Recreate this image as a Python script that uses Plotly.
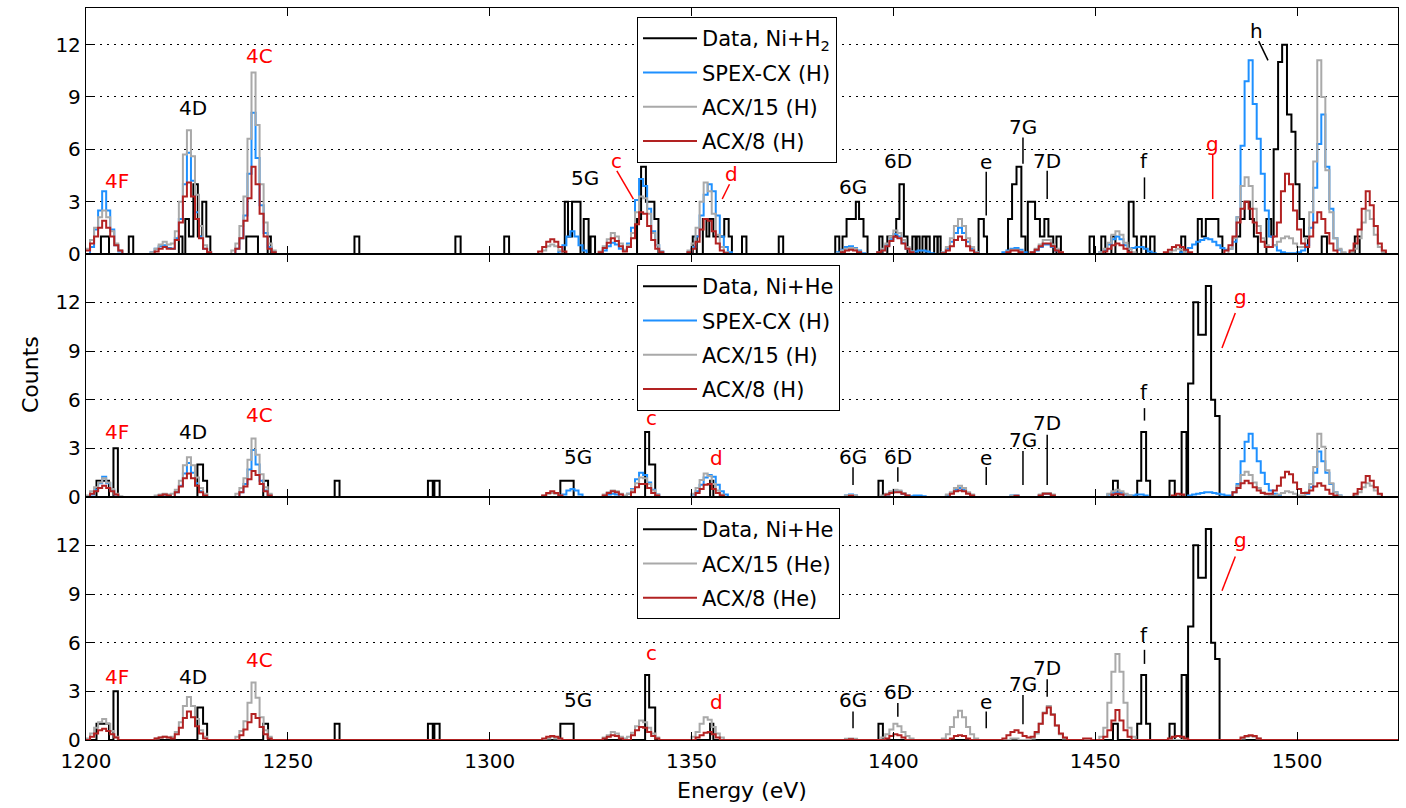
import numpy as np
import plotly.graph_objects as go
from plotly.subplots import make_subplots

E_MIN, E_MAX = 1200, 1525

# ---- measured counts: (bin_lo, bin_hi, counts) ----
DATA_NI_H2 = [
    (1203.7, 1205.7, 1), (1210.6, 1211.7, 1),
    (1223.0, 1223.9, 1), (1224.6, 1225.5, 2), (1225.5, 1226.6, 1), (1226.6, 1227.7, 4),
    (1227.7, 1228.8, 1), (1228.8, 1229.8, 3), (1229.8, 1230.8, 1),
    (1239.7, 1242.6, 1), (1245.0, 1245.8, 1), (1266.5, 1267.7, 1),
    (1291.5, 1292.8, 1), (1303.6, 1304.8, 1),
    (1318.6, 1319.4, 3), (1319.4, 1320.4, 1), (1320.4, 1322.5, 3),
    (1323.3, 1324.5, 2), (1325.0, 1326.1, 1),
    (1336.5, 1337.5, 2), (1337.5, 1338.7, 5), (1338.7, 1340.8, 3), (1340.8, 1341.8, 2),
    (1350.3, 1351.3, 1), (1352.8, 1353.7, 2), (1353.7, 1354.4, 1), (1354.4, 1355.4, 2),
    (1355.4, 1358.1, 1), (1358.1, 1359.2, 2), (1359.2, 1360.0, 1),
    (1362.5, 1363.6, 1), (1371.6, 1372.7, 1),
    (1385.6, 1386.6, 1), (1387.4, 1388.4, 1), (1388.4, 1390.7, 2), (1390.7, 1391.5, 3),
    (1391.5, 1392.6, 2), (1392.6, 1393.6, 1),
    (1396.5, 1397.3, 1), (1398.5, 1400.7, 1), (1400.7, 1401.5, 2), (1401.5, 1402.6, 4),
    (1402.6, 1403.5, 1),
    (1404.7, 1405.5, 1), (1405.8, 1406.5, 1), (1407.2, 1408.0, 1), (1408.2, 1409.0, 1),
    (1410.1, 1410.9, 1), (1411.0, 1411.7, 1),
    (1421.1, 1422.4, 2), (1422.4, 1423.2, 1),
    (1428.4, 1429.4, 2), (1429.4, 1430.5, 4), (1430.5, 1431.7, 5), (1431.7, 1432.7, 1),
    (1433.3, 1435.1, 3), (1435.1, 1436.3, 2), (1436.3, 1437.4, 1), (1437.4, 1438.4, 2),
    (1438.4, 1439.6, 1), (1440.4, 1441.5, 1),
    (1448.6, 1449.7, 1), (1451.5, 1452.5, 1), (1454.0, 1455.0, 1),
    (1458.3, 1459.5, 3), (1459.5, 1460.3, 1), (1461.4, 1462.6, 1), (1463.6, 1464.7, 1),
    (1471.3, 1472.3, 1), (1475.4, 1476.4, 2), (1476.4, 1477.4, 1), (1477.4, 1480.5, 2),
    (1480.5, 1481.5, 1),
    (1484.9, 1485.9, 1), (1485.9, 1487.0, 2), (1487.0, 1488.3, 3), (1488.3, 1489.3, 2),
    (1489.3, 1490.3, 1),
    (1492.4, 1493.6, 2), (1493.6, 1494.2, 1), (1494.2, 1495.3, 6), (1495.3, 1496.3, 11),
    (1496.3, 1497.5, 12), (1497.5, 1498.6, 8), (1498.6, 1499.6, 7), (1499.6, 1500.6, 4),
    (1500.6, 1501.7, 2), (1501.7, 1502.7, 1),
    (1506.1, 1507.4, 1), (1514.3, 1515.5, 1),
]

DATA_NI_HE = [
    (1202.6, 1205.7, 1), (1206.8, 1207.9, 3),
    (1227.6, 1229.0, 2), (1229.0, 1230.0, 1),
    (1243.9, 1245.1, 1), (1261.6, 1262.8, 1),
    (1284.7, 1285.9, 1), (1286.3, 1287.6, 1),
    (1317.5, 1320.8, 1),
    (1338.5, 1339.5, 4), (1339.5, 1341.0, 2),
    (1354.6, 1355.4, 1), (1396.3, 1397.4, 1),
    (1454.4, 1455.6, 1), (1460.4, 1461.4, 1), (1461.4, 1462.6, 4), (1462.6, 1463.6, 1),
    (1468.4, 1469.7, 1), (1471.4, 1472.6, 4),
    (1473.0, 1474.3, 7), (1474.3, 1475.5, 12), (1475.5, 1477.4, 10), (1477.4, 1478.7, 13),
    (1478.7, 1479.7, 6), (1479.7, 1480.8, 5),
]

# ---- model spectra on 1 eV bins: (first bin, [values...]) ----
SPEX_H_P1 = [
    (1201, [0.4, 1.4, 2.5, 3.6, 2.5, 1.4, 0.5, 0.15]),
    (1216, [0.1, 0.3, 0.45, 0.5, 0.35]),
    (1221, [0.3, 0.9, 2.0, 4.0, 5.8, 4.2, 2.4, 1.0, 0.3, 0.1]),
    (1237, [0.3, 0.9, 2.2, 4.6, 8.1, 5.5, 2.8, 1.2, 0.4, 0.1]),
    (1317, [0.15, 0.5, 1.0, 1.3, 1.0, 0.5, 0.2]),
    (1328, [0.2, 0.45, 0.65, 0.55, 0.3]),
    (1333, [0.2, 0.6, 1.5, 3.1, 4.3, 3.9, 2.6, 1.3, 0.5, 0.15]),
    (1349, [0.1, 0.4, 1.0, 2.2, 3.4, 4.0, 3.6, 2.2, 1.0, 0.4, 0.1]),
    (1386, [0.1, 0.25, 0.4, 0.45, 0.35, 0.2, 0.05]),
    (1396, [0.1, 0.25, 0.5, 0.85, 1.15, 1.0, 0.65, 0.3, 0.15, 0.15, 0.2, 0.2, 0.15, 0.05]),
    (1412, [0.1, 0.3, 0.7, 1.2, 1.5, 1.2, 0.7, 0.3, 0.1]),
    (1427, [0.1, 0.2, 0.3, 0.35, 0.25, 0.1]),
    (1435, [0.2, 0.4, 0.55, 0.55, 0.4, 0.2, 0.05]),
    (1451, [0.1, 0.25, 0.55, 0.85, 1.0, 0.85, 0.5, 0.3, 0.35, 0.4, 0.4, 0.3, 0.15, 0.05]),
    (1471, [0.1, 0.2, 0.35, 0.55, 0.7, 0.8, 0.9, 0.85, 0.7, 0.5, 0.35, 0.25, 0.3, 0.7,
            2.1, 6.2, 9.9, 11.1, 8.6, 6.6, 4.6, 2.5, 1.0, 0.5, 0.2, 0.1, 0.05, 0.05, 0.05,
            0.1, 0.2, 0.5, 1.5, 3.8, 6.3, 8.0, 5.0, 2.6, 0.9, 0.25, 0.05]),
]
ACX15_H_P1 = [
    (1200, [0.3, 0.8, 1.5, 2.1, 2.5, 2.1, 1.3, 0.6, 0.2]),
    (1216, [0.1, 0.3, 0.55, 0.7, 0.55]),
    (1221, [0.6, 1.3, 3.0, 5.7, 7.1, 5.6, 3.4, 1.6, 0.5, 0.1]),
    (1236, [0.2, 0.6, 1.6, 3.3, 6.6, 10.4, 7.4, 4.0, 1.8, 0.6, 0.2]),
    (1313, [0.2, 0.45, 0.55, 0.45, 0.2]),
    (1327, [0.15, 0.45, 0.85, 1.2, 1.0, 0.6, 0.25]),
    (1334, [0.5, 1.2, 2.4, 3.3, 3.2, 2.3, 1.2, 0.5, 0.15]),
    (1349, [0.2, 0.6, 1.5, 3.0, 4.1, 3.6, 2.3, 1.1, 0.4, 0.1]),
    (1386, [0.05, 0.2, 0.3, 0.35, 0.3, 0.15]),
    (1396, [0.1, 0.3, 0.6, 1.0, 1.35, 1.2, 0.8, 0.4, 0.15]),
    (1412, [0.1, 0.4, 0.9, 1.6, 2.0, 1.6, 0.9, 0.4, 0.1]),
    (1428, [0.15, 0.25, 0.25, 0.15]),
    (1434, [0.1, 0.3, 0.55, 0.8, 0.8, 0.55, 0.3, 0.1]),
    (1451, [0.1, 0.3, 0.65, 1.1, 1.3, 1.1, 0.65, 0.3, 0.1]),
    (1468, [0.1, 0.2, 0.3, 0.25, 0.1]),
    (1483, [0.3, 0.9, 2.1, 3.9, 4.4, 3.9, 2.6, 1.6, 0.9, 0.5, 0.4, 0.5, 0.7, 0.9, 1.0,
            0.9, 0.6, 0.4, 0.4, 0.9, 2.4, 5.3, 11.1, 9.0, 4.8, 2.4, 0.9, 0.3, 0.1]),
    (1513, [0.1, 0.3, 0.9, 1.8, 2.5, 2.0, 1.1, 0.4, 0.1]),
]
ACX8_H_P1 = [
    (1200, [0.2, 0.6, 1.0, 1.5, 1.9, 1.5, 1.0, 0.5, 0.2]),
    (1217, [0.15, 0.3, 0.4, 0.3]),
    (1221, [0.3, 0.8, 1.8, 3.3, 4.1, 3.3, 2.0, 0.9, 0.3, 0.1]),
    (1237, [0.3, 0.9, 1.9, 3.2, 5.0, 4.0, 2.3, 1.0, 0.3, 0.1]),
    (1312, [0.15, 0.4, 0.7, 0.85, 0.7, 0.4, 0.15]),
    (1327, [0.1, 0.35, 0.65, 0.9, 0.75, 0.45, 0.15]),
    (1334, [0.4, 0.9, 1.7, 2.4, 2.3, 1.6, 0.8, 0.3, 0.1]),
    (1349, [0.1, 0.3, 0.7, 1.4, 2.0, 1.9, 1.3, 0.6, 0.2, 0.05]),
    (1387, [0.1, 0.2, 0.25, 0.2, 0.1]),
    (1396, [0.1, 0.2, 0.45, 0.75, 1.0, 0.9, 0.6, 0.3, 0.1]),
    (1412, [0.05, 0.2, 0.45, 0.8, 1.0, 0.8, 0.45, 0.2, 0.05]),
    (1428, [0.1, 0.2, 0.2, 0.1]),
    (1434, [0.1, 0.25, 0.45, 0.6, 0.6, 0.45, 0.2, 0.1]),
    (1452, [0.15, 0.3, 0.5, 0.6, 0.5, 0.3, 0.1]),
    (1467, [0.1, 0.25, 0.4, 0.5, 0.4, 0.25, 0.1]),
    (1482, [0.2, 0.5, 1.0, 1.8, 2.6, 3.0, 2.6, 1.8, 1.2, 0.7, 0.4, 0.4, 1.0, 1.8, 3.6,
            4.6, 4.0, 2.5, 1.4, 0.6, 0.4, 1.0, 1.8, 2.4, 2.0, 1.2, 0.6, 0.2]),
    (1513, [0.2, 0.6, 1.4, 2.6, 3.6, 2.8, 1.6, 0.6, 0.2]),
]

SPEX_H_P2 = [
    (1201, [0.15, 0.45, 0.85, 1.25, 0.85, 0.45, 0.15]),
    (1218, [0.1, 0.15, 0.1]),
    (1222, [0.3, 0.7, 1.45, 2.1, 1.5, 0.85, 0.35, 0.1]),
    (1238, [0.3, 0.8, 1.7, 2.9, 2.0, 1.0, 0.4, 0.1]),
    (1318, [0.15, 0.4, 0.5, 0.4, 0.15]),
    (1329, [0.15, 0.2, 0.15]),
    (1334, [0.2, 0.5, 1.1, 1.5, 1.35, 0.9, 0.45, 0.15]),
    (1350, [0.15, 0.35, 0.75, 1.2, 1.35, 1.25, 0.75, 0.35, 0.15]),
    (1388, [0.1, 0.15, 0.1]),
    (1398, [0.15, 0.3, 0.4, 0.35, 0.2, 0.1, 0.05, 0.1, 0.1, 0.05]),
    (1413, [0.1, 0.25, 0.45, 0.55, 0.45, 0.25, 0.1]),
    (1429, [0.1, 0.1]),
    (1436, [0.1, 0.2, 0.2, 0.1]),
    (1453, [0.15, 0.25, 0.3, 0.25, 0.15, 0.1, 0.1, 0.15, 0.15, 0.1]),
    (1473, [0.1, 0.15, 0.2, 0.25, 0.3, 0.3, 0.25, 0.2, 0.15, 0.1, 0.1, 0.3, 0.8, 2.2,
            3.4, 3.9, 3.0, 2.2, 1.5, 0.8, 0.4, 0.2, 0.1]),
    (1502, [0.2, 0.6, 1.5, 2.8, 2.2, 1.5, 0.8, 0.3, 0.1]),
]
ACX15_H_P2 = [
    (1200, [0.1, 0.35, 0.6, 0.9, 1.15, 0.9, 0.5, 0.2, 0.05]),
    (1217, [0.1, 0.15, 0.2, 0.15]),
    (1221, [0.2, 0.45, 1.0, 1.95, 2.45, 1.95, 1.2, 0.55, 0.2]),
    (1237, [0.2, 0.55, 1.15, 2.3, 3.6, 2.6, 1.4, 0.6, 0.2]),
    (1313, [0.1, 0.2, 0.25, 0.2, 0.1]),
    (1328, [0.15, 0.3, 0.4, 0.35, 0.2, 0.1]),
    (1334, [0.2, 0.45, 0.85, 1.2, 1.15, 0.8, 0.4, 0.15]),
    (1350, [0.2, 0.55, 1.05, 1.45, 1.3, 0.8, 0.4, 0.15]),
    (1388, [0.1, 0.12, 0.1]),
    (1397, [0.1, 0.2, 0.35, 0.45, 0.4, 0.25, 0.1]),
    (1413, [0.15, 0.3, 0.55, 0.7, 0.55, 0.3, 0.15]),
    (1429, [0.08, 0.08]),
    (1436, [0.15, 0.25, 0.25, 0.15]),
    (1453, [0.2, 0.35, 0.45, 0.35, 0.2, 0.1]),
    (1470, [0.1]),
    (1484, [0.3, 0.7, 1.35, 1.55, 1.35, 0.9, 0.55, 0.3, 0.15, 0.1, 0.1, 0.15, 0.25,
            0.35, 0.3, 0.2, 0.1, 0.1, 0.3, 0.8, 1.85, 3.9, 3.1, 1.65, 0.85, 0.3, 0.1]),
    (1514, [0.1, 0.3, 0.6, 0.85, 0.7, 0.4, 0.15]),
]
ACX8_H_P2 = [
    (1201, [0.2, 0.35, 0.55, 0.7, 0.55, 0.35, 0.15]),
    (1218, [0.1, 0.15, 0.1]),
    (1222, [0.3, 0.65, 1.15, 1.45, 1.15, 0.7, 0.3, 0.1]),
    (1238, [0.3, 0.65, 1.1, 1.6, 1.35, 0.8, 0.35, 0.1]),
    (1313, [0.1, 0.25, 0.35, 0.25, 0.1]),
    (1328, [0.1, 0.25, 0.35, 0.3, 0.15]),
    (1335, [0.3, 0.6, 0.8, 0.8, 0.55, 0.25, 0.1]),
    (1351, [0.25, 0.5, 0.75, 0.8, 0.5, 0.25, 0.1]),
    (1389, [0.08]),
    (1398, [0.15, 0.25, 0.3, 0.3, 0.2, 0.1]),
    (1414, [0.2, 0.35, 0.4, 0.35, 0.2, 0.1]),
    (1430, [0.07]),
    (1436, [0.1, 0.2, 0.2, 0.1]),
    (1454, [0.15, 0.2, 0.15]),
    (1469, [0.1, 0.2, 0.15]),
    (1484, [0.3, 0.55, 0.85, 1.0, 0.85, 0.6, 0.4, 0.25, 0.2, 0.2, 0.4, 0.7, 1.2, 1.55,
            1.4, 0.9, 0.5, 0.25, 0.25, 0.4, 0.65, 0.85, 0.7, 0.45, 0.2, 0.1]),
    (1514, [0.2, 0.5, 0.9, 1.3, 1.0, 0.6, 0.2]),
]

ACX15_HE_P3 = [
    (1200, [0.1, 0.4, 0.75, 1.1, 1.3, 1.0, 0.55, 0.2]),
    (1217, [0.1, 0.15, 0.2, 0.15]),
    (1221, [0.2, 0.5, 1.1, 2.1, 2.65, 2.1, 1.3, 0.6, 0.2]),
    (1237, [0.2, 0.55, 1.15, 2.3, 3.55, 2.6, 1.4, 0.6, 0.2]),
    (1314, [0.1, 0.2, 0.1]),
    (1328, [0.15, 0.3, 0.5, 0.4, 0.2, 0.1]),
    (1334, [0.2, 0.45, 0.85, 1.2, 1.1, 0.75, 0.4, 0.15]),
    (1350, [0.2, 0.5, 1.0, 1.4, 1.25, 0.8, 0.4, 0.15]),
    (1388, [0.08, 0.1, 0.08]),
    (1397, [0.15, 0.35, 0.65, 1.0, 0.85, 0.5, 0.25, 0.1]),
    (1412, [0.1, 0.35, 0.8, 1.4, 1.8, 1.4, 0.8, 0.35, 0.1]),
    (1429, [0.1, 0.1]),
    (1434, [0.1, 0.4, 1.0, 1.7, 2.1, 1.6, 0.9, 0.35, 0.1]),
    (1451, [0.2, 0.75, 2.3, 4.2, 5.3, 4.2, 2.3, 0.75, 0.2]),
    (1486, [0.1, 0.2, 0.25, 0.2, 0.1]),
]
ACX8_HE_P3 = [
    (1201, [0.2, 0.4, 0.6, 0.7, 0.55, 0.35, 0.15]),
    (1217, [0.1, 0.15, 0.2, 0.15, 0.1]),
    (1222, [0.35, 0.75, 1.35, 1.75, 1.4, 0.85, 0.4, 0.1]),
    (1238, [0.3, 0.65, 1.1, 1.6, 1.35, 0.8, 0.35, 0.1]),
    (1313, [0.1, 0.2, 0.25, 0.2, 0.1]),
    (1328, [0.1, 0.2, 0.3, 0.25, 0.1]),
    (1335, [0.3, 0.6, 0.8, 0.75, 0.5, 0.25, 0.1]),
    (1351, [0.15, 0.3, 0.45, 0.5, 0.35, 0.15]),
    (1389, [0.05]),
    (1398, [0.1, 0.25, 0.35, 0.3, 0.15]),
    (1414, [0.1, 0.25, 0.3, 0.25, 0.1]),
    (1427, [0.1, 0.3, 0.5, 0.6, 0.45, 0.25, 0.15, 0.2, 0.5, 1.0, 1.65, 2.0, 1.55, 0.9,
            0.4, 0.15]),
    (1447, [0.1, 0.1]),
    (1452, [0.2, 0.6, 1.2, 1.85, 1.2, 0.6, 0.2]),
    (1468, [0.1, 0.2, 0.25, 0.2, 0.1]),
    (1486, [0.15, 0.25, 0.3, 0.25, 0.1]),
]

# ---- line identifications: (text, energy, counts, colour) ----
LABELS_P1 = [("4F", 1207.7, 4.2, "red"), ("4D", 1226.5, 8.37, "black"),
             ("4C", 1243.1, 11.34, "red"), ("5G", 1323.5, 4.37, "black"),
             ("c", 1331.3, 5.34, "red"), ("d", 1359.8, 4.6, "red"),
             ("6G", 1390.0, 3.86, "black"), ("6D", 1401.1, 5.34, "black"),
             ("e", 1423.0, 5.29, "black"), ("7G", 1432.1, 7.29, "black"),
             ("7D", 1438.1, 5.34, "black"), ("f", 1462.2, 5.34, "black"),
             ("g", 1479.1, 6.3, "red"), ("h", 1490.0, 12.77, "black")]
TICKS_P1 = [(1331.5, 4.77, 1335.6, 3.15, "red"), (1359.4, 4.0, 1357.6, 3.15, "red"),
            (1423.0, 4.71, 1423.0, 2.2, "black"), (1432.1, 6.68, 1432.1, 5.17, "black"),
            (1438.1, 4.77, 1438.1, 3.15, "black"), (1462.2, 4.39, 1462.2, 3.15, "black"),
            (1479.1, 5.73, 1479.1, 3.15, "red"), (1490.5, 12.2, 1492.8, 11.1, "black")]

LABELS_P2 = [("4F", 1207.7, 3.99, "red"), ("4D", 1226.5, 3.99, "black"),
             ("4C", 1243.1, 5.06, "red"), ("5G", 1321.8, 2.47, "black"),
             ("c", 1340.1, 4.86, "red"), ("d", 1356.1, 2.39, "red"),
             ("6G", 1390.0, 2.47, "black"), ("6D", 1401.1, 2.47, "black"),
             ("e", 1423.0, 2.39, "black"), ("7G", 1432.1, 3.52, "black"),
             ("7D", 1438.1, 4.57, "black"), ("f", 1462.2, 6.5, "black"),
             ("g", 1485.9, 12.36, "red")]
TICKS_P2 = [(1390.0, 1.83, 1390.0, 0.74, "black"), (1401.1, 1.83, 1401.1, 0.94, "black"),
            (1423.0, 1.85, 1423.0, 0.74, "black"), (1432.1, 2.84, 1432.1, 0.74, "black"),
            (1438.1, 3.83, 1438.1, 0.74, "black"), (1462.2, 5.48, 1462.2, 4.71, "black"),
            (1484.7, 11.34, 1481.4, 9.18, "red")]

LABELS_P3 = [("4F", 1207.7, 3.89, "red"), ("4D", 1226.5, 3.89, "black"),
             ("4C", 1243.1, 4.94, "red"), ("5G", 1321.8, 2.47, "black"),
             ("c", 1340.1, 5.35, "red"), ("d", 1356.1, 2.36, "red"),
             ("6G", 1390.0, 2.47, "black"), ("6D", 1401.1, 2.98, "black"),
             ("e", 1423.0, 2.36, "black"), ("7G", 1432.1, 3.46, "black"),
             ("7D", 1438.1, 4.43, "black"), ("f", 1462.2, 6.48, "black"),
             ("g", 1485.9, 12.35, "red")]
TICKS_P3 = [(1390.0, 1.75, 1390.0, 0.72, "black"), (1401.1, 2.28, 1401.1, 1.44, "black"),
            (1423.0, 1.75, 1423.0, 0.72, "black"), (1432.1, 2.78, 1432.1, 0.97, "black"),
            (1438.1, 3.75, 1438.1, 2.67, "black"), (1462.2, 5.56, 1462.2, 4.69, "black"),
            (1484.7, 11.31, 1481.4, 9.2, "red")]

C_DATA, C_SPEX, C_ACX15, C_ACX8 = "black", "#1E90FF", "#A9A9A9", "#B22222"
FONT = "DejaVu Sans"


def model_steps(segments):
    vals = np.zeros(E_MAX - E_MIN)
    for start, v in segments:
        i = start - E_MIN
        vals[i:i + len(v)] = v
    x = np.arange(E_MIN, E_MAX + 1)
    y = np.append(vals, vals[-1])
    return x, y


def data_steps(bars):
    xs, ys = [E_MIN], [0]
    prev_hi = None
    for lo, hi, c in bars:
        if prev_hi is not None and abs(lo - prev_hi) > 1e-9:
            xs.append(prev_hi)
            ys.append(0)
        xs.append(lo)
        ys.append(c)
        prev_hi = hi
    xs += [prev_hi, E_MAX]
    ys += [0, 0]
    return xs, ys


fig = make_subplots(rows=3, cols=1, shared_xaxes=True, vertical_spacing=0)

panels = [
    (1, "legend", [("Data, Ni+H<sub>2</sub>", "data", DATA_NI_H2, C_DATA),
                   ("SPEX-CX (H)", "model", SPEX_H_P1, C_SPEX),
                   ("ACX/15 (H)", "model", ACX15_H_P1, C_ACX15),
                   ("ACX/8 (H)", "model", ACX8_H_P1, C_ACX8)]),
    (2, "legend2", [("Data, Ni+He", "data", DATA_NI_HE, C_DATA),
                    ("SPEX-CX (H)", "model", SPEX_H_P2, C_SPEX),
                    ("ACX/15 (H)", "model", ACX15_H_P2, C_ACX15),
                    ("ACX/8 (H)", "model", ACX8_H_P2, C_ACX8)]),
    (3, "legend3", [("Data, Ni+He", "data", DATA_NI_HE, C_DATA),
                    ("ACX/15 (He)", "model", ACX15_HE_P3, C_ACX15),
                    ("ACX/8 (He)", "model", ACX8_HE_P3, C_ACX8)]),
]

for row, leg, series in panels:
    for k, (name, kind, values, color) in enumerate(series):
        x, y = data_steps(values) if kind == "data" else model_steps(values)
        fig.add_trace(go.Scatter(
            x=x, y=y, mode="lines", line=dict(shape="hv", color=color, width=2),
            name=name, legend=leg, legendgroup=f"{leg}_{k}", hoverinfo="skip",
        ), row=row, col=1)

# line identification labels and marker ticks
for row, labels, ticks in [(1, LABELS_P1, TICKS_P1), (2, LABELS_P2, TICKS_P2),
                           (3, LABELS_P3, TICKS_P3)]:
    yref = "y" if row == 1 else f"y{row}"
    xref = "x" if row == 1 else f"x{row}"
    for text, ex, cy, col in labels:
        fig.add_annotation(x=ex, y=cy, xref=xref, yref=yref, text=text,
                           showarrow=False, xanchor="center", yanchor="middle",
                           font=dict(family=FONT, size=20, color=col))
    for x0, y0, x1, y1, col in ticks:
        fig.add_shape(type="line", x0=x0, y0=y0, x1=x1, y1=y1, xref=xref, yref=yref,
                      line=dict(color=col, width=1.5))

H_TOTAL, M_T, M_B, M_L, M_R = 808, 8, 68, 86, 8
plot_h = H_TOTAL - M_T - M_B
plot_w = 1406 - M_L - M_R


def py(pix):
    return 1 - (pix - M_T) / plot_h


axis_common = dict(showline=True, linecolor="black", linewidth=1.3, mirror="allticks",
                   ticks="inside", ticklen=8, tickwidth=1.3, tickcolor="black",
                   tickfont=dict(family=FONT, size=20, color="black"))

for row, (top, bottom, yr) in enumerate([(8, 254, 14.1), (254, 497, 14.98),
                                         (497, 740, 14.98)], start=1):
    fig.update_yaxes(domain=[py(bottom), py(top)], range=[0, yr],
                     tickvals=[0, 3, 6, 9, 12], showgrid=True, gridcolor="black",
                     griddash="2px,5px", gridwidth=1, zeroline=False,
                     row=row, col=1, **axis_common)
    fig.update_xaxes(range=[E_MIN, E_MAX], tickvals=[1200, 1250, 1300, 1350, 1400, 1450, 1500],
                     showgrid=False, zeroline=False, showticklabels=(row == 3),
                     row=row, col=1, **axis_common)

fig.update_xaxes(title=dict(text="Energy (eV)", font=dict(family=FONT, size=22, color="black"),
                            standoff=10), ticklabelstandoff=3, row=3, col=1)

fig.add_annotation(text="Counts", xref="paper", yref="paper", x=(30 - M_L) / plot_w, y=0.5,
                   textangle=-90, showarrow=False, xanchor="center", yanchor="middle",
                   font=dict(family=FONT, size=22, color="black"))

legend_style = dict(bgcolor="white", bordercolor="black", borderwidth=1,
                    font=dict(family=FONT, size=21, color="black"),
                    xanchor="left", yanchor="top", traceorder="grouped",
                    tracegroupgap=4, itemwidth=54)
lx = (637 - M_L) / plot_w
fig.update_layout(
    legend=dict(x=lx, y=py(17), **legend_style),
    legend2=dict(x=lx, y=py(265), **legend_style),
    legend3=dict(x=lx, y=py(508), **legend_style),
)

fig.update_layout(
    width=1406, height=808,
    margin=dict(l=M_L, r=M_R, t=M_T, b=M_B),
    paper_bgcolor="white", plot_bgcolor="white",
    font=dict(family=FONT, color="black"),
    showlegend=True,
)

fig.write_html("out.html")
